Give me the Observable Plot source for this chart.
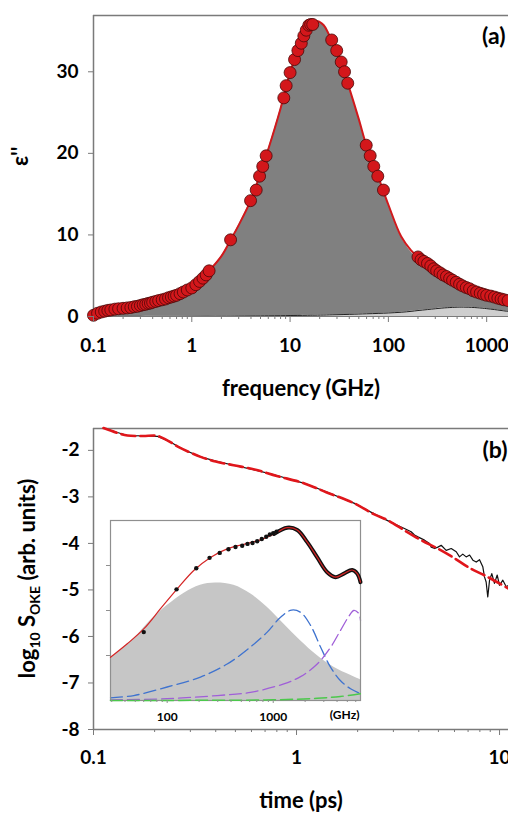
<!DOCTYPE html>
<html>
<head>
<meta charset="utf-8">
<script src="https://cdn.jsdelivr.net/npm/d3@7"></script>
<script src="https://cdn.jsdelivr.net/npm/@observablehq/plot@0.6"></script>
<style>
  html, body { margin: 0; padding: 0; background: white; }
  #wrap { position: relative; width: 508px; height: 813px; overflow: hidden; }
  #wrap svg { position: absolute; }
  #wrap svg text { font-weight: 700; }
</style>
</head>
<body>
<div id="wrap"></div>
<script>
// ---------- Panel (a): dielectric loss ----------
const pointFreq = [0.1,0.11,0.12,0.13,0.14,0.15,0.165,0.18,0.2,0.22,0.24,0.26,0.28,0.3,0.32,0.34,0.36,0.38,0.4,0.43,0.46,0.5,0.54,0.58,0.62,0.66,0.7,0.76,0.82,0.9,1.0,1.1,1.2,1.3,1.4,1.5,
  2.48,3.96,4.52,4.89,5.27,5.71,
  8.63,9.12,10.0,11.1,12.0,13.0,13.8,14.6,15.5,16.2,17.0,
  26.5,29.8,33.1,35.8,38.6,
  59.5,65.3,71.0,78.0,89.1,
  200,215,230,250,270,290,310,335,360,390,420,450,490,530,570,620,670,730,790,860,930,1000,1100,1200,1300,1400,1500,1650];
const pointEps = [0.15,0.4,0.55,0.65,0.75,0.8,0.9,0.95,1.0,1.05,1.1,1.2,1.25,1.35,1.45,1.5,1.6,1.65,1.75,1.85,1.95,2.05,2.15,2.3,2.4,2.5,2.6,2.8,3.0,3.25,3.5,3.9,4.3,4.7,5.1,5.6,
  9.4,14.2,15.5,17.2,18.4,19.7,
  26.8,28.3,29.9,31.5,32.6,33.5,34.4,35.1,35.7,35.8,35.8,
  33.9,32.6,31.2,30.0,28.6,
  21.0,19.7,18.4,17.2,15.5,
  7.3,6.95,6.75,6.5,6.2,5.85,5.6,5.35,5.1,4.9,4.65,4.45,4.2,3.95,3.75,3.55,3.4,3.15,3.0,2.85,2.72,2.6,2.5,2.38,2.25,2.15,2.05,1.95];

const fitFreq = [0.1,0.15,0.2,0.3,0.5,0.7,1,1.5,2,2.5,3,4,5,6,8,10,12,15,17,19,22,25,30,40,50,60,80,100,135,170,200,250,300,350,400,500,550,700,900,1000,1200,1400,1700];
const fitTotal = [0.15,0.7,0.98,1.33,2.03,2.6,3.45,5.6,7.4,9.45,11.2,14.3,17.6,20.5,25.5,29.9,32.6,35.3,35.9,36.2,35.7,34.5,32.6,28.0,24.2,20.9,16.9,13.7,9.8,8.1,7.3,6.5,5.7,5.2,4.8,4.15,3.85,3.25,2.8,2.6,2.38,2.15,1.95];
const fitMain = [0.15,0.7,0.98,1.33,2.03,2.6,3.45,5.6,7.4,9.45,11.2,14.3,17.6,20.5,25.5,29.9,32.6,35.3,35.9,36.2,35.7,34.5,32.6,28.0,24.2,20.9,16.9,13.7,9.75,7.9,7.0,6.05,5.2,4.7,4.25,3.55,3.25,2.7,2.3,2.15,1.85,1.55,1.3];
const fitSecond = [0,0,0.01,0.01,0.02,0.02,0.03,0.04,0.05,0.05,0.06,0.07,0.08,0.09,0.1,0.12,0.13,0.15,0.16,0.17,0.18,0.2,0.22,0.26,0.3,0.33,0.38,0.43,0.52,0.63,0.73,0.85,0.95,1.03,1.08,1.14,1.15,1.12,1.02,0.96,0.85,0.74,0.6];

const freqTicks = [0.1, 1, 10, 100, 1000];
const freqMinor = [0.2,0.3,0.4,0.5,0.6,0.7,0.8,0.9,2,3,4,5,6,7,8,9,20,30,40,50,60,70,80,90,200,300,400,500,600,700,800,900];
const epsTicks = [0, 10, 20, 30];

// ---------- Panel (b): OKE signal ----------
const okeFitTime = [0.112,0.13,0.147,0.175,0.207,0.232,0.26,0.277,0.337,0.4,0.49,0.621,0.8,1.094,1.4,1.93,2.4,2.81,3.4,4.11,5,6,7,8.73,11.07];
const okeFitVal = [-1.52,-1.62,-1.68,-1.69,-1.69,-1.79,-1.92,-1.98,-2.14,-2.24,-2.32,-2.41,-2.55,-2.71,-2.90,-3.14,-3.37,-3.50,-3.72,-3.93,-4.12,-4.32,-4.51,-4.72,-4.97];
const okeDataTime = [0.112,0.13,0.147,0.175,0.207,0.232,0.26,0.277,0.337,0.4,0.49,0.621,0.8,1.094,1.4,1.93,2.4,2.81,3.1,
  3.40,3.67,3.81,3.96,4.27,4.52,4.61,4.79,4.97,5.16,5.46,5.78,6.12,6.35,6.59,6.85,7.12,7.39,7.68,7.97,8.27,8.43,8.59,8.75,8.93,9.16,9.44,9.74,10.0,10.38,10.79,11.07];
const okeDataVal = [-1.52,-1.61,-1.68,-1.69,-1.70,-1.79,-1.91,-1.98,-2.14,-2.23,-2.32,-2.42,-2.54,-2.71,-2.89,-3.14,-3.36,-3.51,-3.60,
  -3.68,-3.75,-3.82,-3.86,-3.93,-4.00,-4.08,-4.11,-4.08,-4.04,-4.15,-4.11,-4.18,-4.29,-4.23,-4.29,-4.25,-4.36,-4.40,-4.35,-4.50,-4.72,-4.83,-5.15,-4.79,-4.65,-4.86,-4.68,-4.90,-4.79,-4.93,-4.90];
const timeTicks = [0.1, 1, 10];
const timeMinor = [0.2,0.3,0.4,0.5,0.6,0.7,0.8,0.9,2,3,4,5,6,7,8,9];
const logTicks = [-2,-3,-4,-5,-6,-7,-8];

// ---------- Inset ----------
const insetGrayFreq = [29.2,48.4,69.5,100,143.4,206,285,425,611,878,1259,1811,2600,3736,5360,6655];
const insetGrayVal = [0.93,1.37,1.78,2.11,2.38,2.56,2.61,2.56,2.37,2.07,1.70,1.33,1.0,0.74,0.56,0.46];
const insetFitFreq = [29.2,42.0,60.1,86.5,124.3,178,256,368,528,759,1014,1355,1683,2093,2600,3230,3873,4637,5560,6200,6655];
const insetFitVal = [0.96,1.26,1.59,2.04,2.48,2.89,3.18,3.37,3.47,3.57,3.70,3.84,3.79,3.52,3.18,2.85,2.74,2.82,2.90,2.82,2.63];
const insetDotFreq = [60.1,122.5,188,251,313,378,441,510,572,638,706,780,859,929,1000,1074];
const insetDotVal = [1.52,2.47,2.94,3.17,3.28,3.36,3.41,3.44,3.48,3.50,3.54,3.59,3.64,3.69,3.72,3.75];
const insetBlueFreq = [29.2,48.4,100,206,368,611,878,1172,1490,1811,2249,2794,3472,4315,5360,6655];
const insetBlueVal = [0.06,0.11,0.30,0.52,0.81,1.19,1.52,1.85,2.01,1.96,1.67,1.19,0.74,0.44,0.26,0.15];
const insetPurpleFreq = [29.2,100,296,611,1259,1811,2600,3472,4315,5166,5756,6425,6655];
const insetPurpleVal = [0.015,0.04,0.11,0.18,0.37,0.53,0.81,1.18,1.56,1.87,2.0,1.93,1.78];
const insetGreenFreq = [29.2,300,1000,2600,4300,6655];
const insetGreenVal = [0.0,0.005,0.015,0.05,0.09,0.15];
const insetTicks = [100, 1000];
const insetMinor = [30,40,50,60,70,80,90,200,300,400,500,600,700,800,900,2000,3000,4000,5000,6000];
const insetYTicks = [1, 2, 3];

// ---------- build rows ----------
const zip = (xs, ys) => xs.map((x, i) => ({x, y: ys[i]}));
const fitRows = fitFreq.map((f, i) => ({f, total: fitTotal[i], main: fitMain[i], second: fitSecond[i]}));
const pointRows = zip(pointFreq, pointEps);
const okeFit = zip(okeFitTime, okeFitVal);
const okeData = zip(okeDataTime, okeDataVal);
const insetGray = zip(insetGrayFreq, insetGrayVal);
const insetFit = zip(insetFitFreq, insetFitVal);
const insetDots = zip(insetDotFreq, insetDotVal);
const insetBlue = zip(insetBlueFreq, insetBlueVal);
const insetPurple = zip(insetPurpleFreq, insetPurpleVal);
const insetGreen = zip(insetGreenFreq, insetGreenVal);

const FONT = "Lato, 'Open Sans', sans-serif";
const frameColor = "#7a7a7a";
const curve = "catmull-rom";
const fmt = d => String(d);

const epsDomain = [0, 36.9];
const freqDomain = [0.1, 1667];
const topPlot = Plot.plot({
  width: 508, height: 400,
  marginLeft: 93, marginRight: 0, marginTop: 15, marginBottom: 84,
  x: {type: "log", domain: freqDomain, label: null},
  y: {domain: epsDomain, label: null},
  style: {fontFamily: FONT, fontWeight: "bold", fontSize: "19px", background: "transparent", overflow: "visible"},
  marks: [
    Plot.areaY(fitRows, {x: "f", y: "second", fill: "#cecece", curve}),
    Plot.areaY(fitRows, {x: "f", y1: "second", y2: "main", fill: "#808080", curve}),
    Plot.line(fitRows, {x: "f", y: "second", stroke: "#222", strokeWidth: 1, curve}),
    Plot.ruleY([epsDomain[1]], {stroke: frameColor, strokeWidth: 1.5}),
    Plot.ruleY([epsDomain[0]], {stroke: frameColor, strokeWidth: 1.2}),
    Plot.ruleX([freqDomain[0]], {stroke: frameColor, strokeWidth: 1.5}),
    Plot.line(fitRows, {x: "f", y: "total", stroke: "#d0191c", strokeWidth: 2, curve}),
    Plot.dot(pointRows, {x: "x", y: "y", r: 6, fill: "#d3171b", stroke: "#4a0808", strokeWidth: 0.8}),
    Plot.axisX({ticks: freqTicks, tickSize: 6, tickPadding: 16, tickFormat: fmt, stroke: frameColor, fill: "black", label: null, fontWeight: "bold"}),
    Plot.axisX({ticks: freqMinor, tickSize: 3, tickFormat: () => "", stroke: frameColor, label: null}),
    Plot.axisY({ticks: epsTicks, tickSize: 5, tickPadding: 10, tickFormat: fmt, stroke: frameColor, fill: "black", label: null, fontWeight: "bold"}),
    Plot.text(["frequency (GHz)"], {text: d => d, frameAnchor: "bottom", lineAnchor: "middle", dy: 72, fontSize: 22, fontWeight: "bold"}),
    Plot.text(["(a)"], {text: d => d, frameAnchor: "top-right", lineAnchor: "middle", dx: -3, dy: 21, fontSize: 23, fontWeight: "bold"}),
    Plot.text(["ε''"], {text: d => d, frameAnchor: "left", dx: -66, rotate: -90, lineAnchor: "bottom", fontSize: 22, fontWeight: "bold"})
  ]
});
topPlot.style.left = "0px"; topPlot.style.top = "0px";

const logDomain = [-8, -1.53];
const timeDomain = [0.1, 11.07];
const botPlot = Plot.plot({
  width: 508, height: 413,
  marginLeft: 93, marginRight: 0, marginTop: 28, marginBottom: 84,
  x: {type: "log", domain: timeDomain, label: null},
  y: {domain: logDomain, label: null},
  style: {fontFamily: FONT, fontWeight: "bold", fontSize: "19px", background: "transparent", overflow: "visible"},
  marks: [
    Plot.ruleY([logDomain[1]], {stroke: frameColor, strokeWidth: 1.5}),
    Plot.ruleY([logDomain[0]], {stroke: frameColor, strokeWidth: 1.5}),
    Plot.ruleX([timeDomain[0]], {stroke: frameColor, strokeWidth: 1.5}),
    Plot.line(okeData, {x: "x", y: "y", stroke: "#111", strokeWidth: 1.2}),
    Plot.line(okeFit, {x: "x", y: "y", stroke: "#e0161b", strokeWidth: 2.6, strokeDasharray: "14,5", curve}),
    Plot.axisX({ticks: timeTicks, tickSize: 6, tickPadding: 15, tickFormat: fmt, stroke: frameColor, fill: "black", label: null, fontWeight: "bold"}),
    Plot.axisX({ticks: timeMinor, tickSize: 3, tickFormat: () => "", stroke: frameColor, label: null}),
    Plot.axisY({ticks: logTicks, tickSize: 5, tickPadding: 9, tickFormat: fmt, stroke: frameColor, fill: "black", label: null, fontWeight: "bold"}),
    Plot.text(["time (ps)"], {text: d => d, frameAnchor: "bottom", lineAnchor: "middle", dy: 71, fontSize: 22, fontWeight: "bold"}),
    Plot.text(["(b)"], {text: d => d, frameAnchor: "top-right", lineAnchor: "middle", dx: -1, dy: 22, fontSize: 23, fontWeight: "bold"})
  ]
});
botPlot.style.left = "0px"; botPlot.style.top = "400px";

// y label with subscripts
{
  const t = d3.select(botPlot).append("text")
    .attr("transform", "translate(35,178.5) rotate(-90)")
    .attr("text-anchor", "middle")
    .attr("font-size", 22).attr("font-weight", "bold").attr("fill", "black");
  t.append("tspan").text("log");
  t.append("tspan").attr("font-size", 14).attr("dy", 5).text("10");
  t.append("tspan").attr("dy", -5).text(" S");
  t.append("tspan").attr("font-size", 14).attr("dy", 5).text("OKE");
  t.append("tspan").attr("dy", -5).text(" (arb. units)");
}

const inDomainX = [29.2, 6655];
const inDomainY = [0, 4];
const insetPlot = Plot.plot({
  width: 290, height: 230,
  marginLeft: 30, marginRight: 10, marginTop: 20, marginBottom: 30,
  x: {type: "log", domain: inDomainX, label: null},
  y: {domain: inDomainY, label: null},
  style: {fontFamily: FONT, fontWeight: "bold", fontSize: "12px", background: "transparent", overflow: "visible"},
  marks: [
    Plot.frame({fill: "white", stroke: null}),
    Plot.areaY(insetGray, {x: "x", y: "y", fill: "#c6c6c6", curve}),
    Plot.line(insetBlue, {x: "x", y: "y", stroke: "#3f73cf", strokeWidth: 1.3, strokeDasharray: "12,5", curve}),
    Plot.line(insetPurple, {x: "x", y: "y", stroke: "#a05fd8", strokeWidth: 1.3, strokeDasharray: "12,5", curve}),
    Plot.frame({stroke: "#8f8f8f", strokeWidth: 1.2}),
    Plot.line(insetGreen, {x: "x", y: "y", stroke: "#4cc84c", strokeWidth: 1.5, strokeDasharray: "12,5", curve}),
    Plot.line(insetFit.filter(d => d.x >= 1000), {x: "x", y: "y", stroke: "#111", strokeWidth: 4, curve}),
    Plot.line(insetFit, {x: "x", y: "y", stroke: "#d42424", strokeWidth: 1.2, curve}),
    Plot.dot(insetDots, {x: "x", y: "y", r: 2.2, fill: "#111"}),
    Plot.axisX({ticks: insetTicks, tickSize: 3, tickPadding: 9, tickFormat: fmt, stroke: "#8f8f8f", fill: "black", label: null, fontWeight: "bold"}),
    Plot.axisX({ticks: insetMinor, tickSize: 2, tickFormat: () => "", stroke: "#8f8f8f", label: null}),
    Plot.axisY({ticks: insetYTicks, tickSize: 4, tickFormat: () => "", stroke: "#8f8f8f", label: null}),
    Plot.text(["(GHz)"], {text: d => d, frameAnchor: "bottom-right", lineAnchor: "middle", dx: -1, dy: 15, fontSize: 12, fontWeight: "bold"})
  ]
});
insetPlot.style.left = "80px"; insetPlot.style.top = "500px";

const wrap = document.getElementById("wrap");
wrap.append(topPlot, botPlot, insetPlot);
</script>
</body>
</html>
